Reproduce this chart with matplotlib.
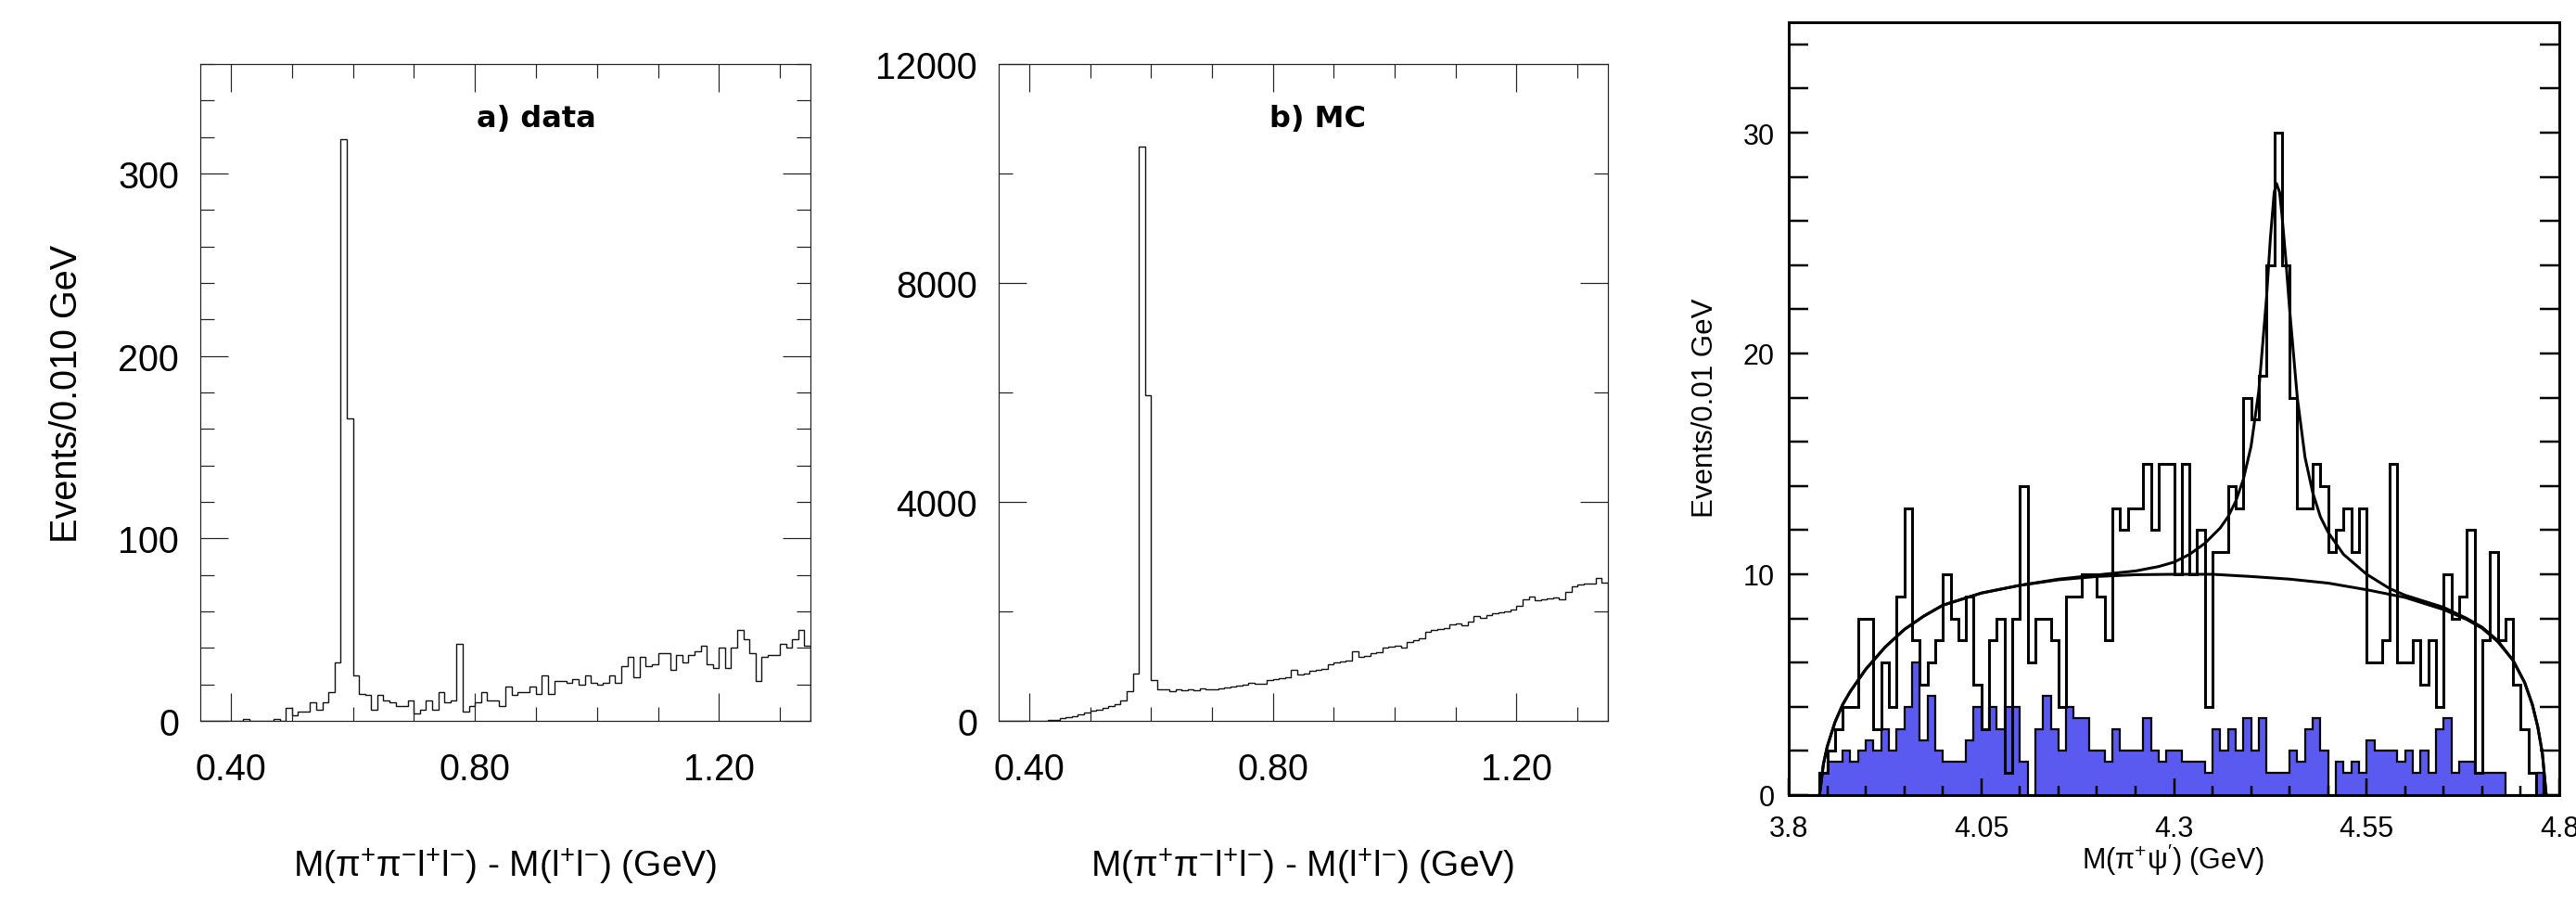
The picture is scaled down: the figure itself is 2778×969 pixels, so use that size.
import numpy as np
import matplotlib
matplotlib.use("Agg")
import matplotlib.pyplot as plt
from matplotlib.ticker import FixedLocator, MultipleLocator

plt.rcParams['font.family'] = ['Liberation Sans', 'DejaVu Sans']
plt.rcParams['mathtext.default'] = 'regular'

# ---------------- data ----------------
# panel a: data, 0.35 .. 1.35 GeV, 0.010 GeV bins
data_a = [0, 0, 0, 0, 0, 0, 0, 1, 0, 0,
          0, 0, 1, 0, 7, 3, 5, 5, 10, 6,
          10, 16, 32, 319, 166, 25, 15, 14, 6, 14,
          11, 10, 8, 8, 11, 4, 6, 11, 6, 16,
          10, 11, 42, 5, 8, 10, 16, 11, 11, 8,
          19, 14, 16, 16, 19, 15, 25, 15, 22, 22,
          21, 23, 20, 25, 21, 20, 21, 25, 21, 30,
          35, 24, 35, 30, 31, 37, 37, 28, 36, 32,
          36, 38, 41, 31, 29, 40, 29, 40, 50, 45,
          37, 22, 35, 36, 36, 42, 40, 45, 50, 41]

# panel b: MC
mc_b = [0, 0, 0, 0, 0, 0, 0, 8, 14, 25,
        45, 65, 90, 120, 145, 180, 210, 245, 275, 300,
        380, 540, 860, 10490, 5950, 738, 568, 568, 535, 576,
        559, 576, 551, 592, 576, 568, 600, 616, 632, 649,
        665, 689, 673, 681, 738, 762, 786, 803, 932, 843,
        868, 908, 932, 957, 1030, 1070, 1086, 1103, 1265, 1168,
        1192, 1232, 1257, 1338, 1362, 1378, 1346, 1435, 1476, 1516,
        1622, 1654, 1670, 1695, 1759, 1776, 1751, 1816, 1914, 1873,
        1938, 1962, 1986, 1995, 2035, 2108, 2222, 2278, 2205, 2222,
        2238, 2254, 2222, 2351, 2457, 2489, 2513, 2513, 2611, 2522]

# panel c: M(pi+ psi') 3.80 .. 4.80 GeV, 0.01 GeV bins
signal_c = [0, 0, 0, 0, 1, 2, 3, 4, 4, 8,
            8, 3, 6, 4, 9, 13, 7, 5, 6, 7,
            10, 8, 7, 9, 5, 3, 7, 8, 1, 8,
            14, 6, 8, 8, 7, 4, 9, 9, 10, 10,
            9, 7, 13, 12, 13, 13, 15, 12, 15, 15,
            10, 15, 10, 12, 4, 11, 11, 14, 13, 18,
            17, 19, 24, 30, 24, 18, 13, 13, 15, 14,
            11, 12, 13, 11, 13, 6, 6, 7, 15, 6,
            6, 7, 5, 7, 4, 10, 8, 9, 12, 1,
            7, 11, 7, 8, 5, 3, 1, 0, 0, 0]

sideband_c = [0, 0, 0, 0, 1, 1.5, 1.5, 2, 1.5, 2,
              2.5, 2, 3, 2, 3, 4, 6, 2.5, 4.5, 2,
              1.5, 1.5, 1.5, 2.5, 4, 3, 4, 3, 4, 4,
              1.5, 0, 3, 4.5, 3, 2, 4, 3.5, 3.5, 2,
              2, 1.5, 3, 2, 2, 2, 3.5, 2, 1.5, 2,
              2, 1.5, 1.5, 1.5, 1, 3, 2, 3, 2, 3.5,
              2, 3.5, 1, 1, 1, 2, 1.5, 3, 3.5, 2,
              0, 1.5, 1, 1.5, 1, 2.5, 2, 2, 2, 1.5,
              2, 1, 2, 1, 3, 3.5, 1, 1.5, 1.5, 1,
              1, 1, 1, 0, 0, 0, 0, 1, 0, 0]

bkg_curve_x = [3.840, 3.845, 3.850, 3.860, 3.870, 3.880, 3.900, 3.925, 3.950, 3.975,
               4.000, 4.050, 4.100, 4.150, 4.200, 4.250, 4.300, 4.350, 4.400, 4.450,
               4.500, 4.550, 4.600, 4.650, 4.680, 4.700, 4.720, 4.740, 4.755, 4.765,
               4.772, 4.778, 4.783]
bkg_curve_y = [0, 1.4, 2.2, 3.3, 4.1, 4.7, 5.7, 6.7, 7.5, 8.1,
               8.6, 9.15, 9.5, 9.75, 9.9, 9.98, 10.0, 10.0, 9.9, 9.78,
               9.6, 9.3, 8.95, 8.4, 7.95, 7.55, 6.95, 6.1, 5.1, 4.1,
               3.1, 1.9, 0]

fit_curve_x = [3.840, 3.845, 3.850, 3.860, 3.870, 3.880, 3.900, 3.925, 3.950, 3.975,
               4.000, 4.050, 4.100, 4.150, 4.200, 4.250, 4.280, 4.300, 4.320, 4.340,
               4.360, 4.370, 4.380, 4.390, 4.400, 4.410, 4.420, 4.425, 4.430, 4.433,
               4.437, 4.440, 4.445, 4.450, 4.460, 4.470, 4.480, 4.490, 4.500, 4.520,
               4.550, 4.580, 4.600, 4.650, 4.680, 4.700, 4.720, 4.740, 4.755, 4.765,
               4.772, 4.778, 4.783]
fit_curve_y = [0, 1.4, 2.2, 3.3, 4.1, 4.7, 5.7, 6.7, 7.5, 8.1,
               8.6, 9.15, 9.5, 9.78, 9.97, 10.15, 10.35, 10.55, 10.9, 11.4,
               12.1, 12.6, 13.3, 14.3, 15.8, 18.3, 22.5, 25.2, 27.3, 27.7,
               27.3, 26.3, 24.3, 22.0, 18.0, 15.3, 13.7, 12.6, 11.9, 10.9,
               10.0, 9.35, 9.05, 8.5, 8.0, 7.6, 7.0, 6.1, 5.1, 4.1,
               3.1, 1.9, 0]

edges_ab = np.round(np.linspace(0.35, 1.35, len(data_a) + 1), 3)
edges_c = np.round(np.linspace(3.80, 4.80, len(signal_c) + 1), 3)

# ---------------- figure ----------------
W, H = 2778, 970
DPI = 100
fig = plt.figure(figsize=(W / DPI, H / DPI), dpi=DPI)
PX = 72.0 / DPI  # points per pixel


def rect(x0, y0, x1, y1):
    return [x0 / W, 1 - y1 / H, (x1 - x0) / W, (y1 - y0) / H]


def style_ab(ax, ymax, ymajor, yminor, ylabels):
    ax.set_xlim(0.35, 1.35)
    ax.set_ylim(0, ymax)
    ax.xaxis.set_major_locator(FixedLocator([0.4, 0.8, 1.2]))
    ax.xaxis.set_minor_locator(FixedLocator([0.5, 0.6, 0.7, 0.9, 1.0, 1.1, 1.3]))
    ax.set_xticklabels(['0.40', '0.80', '1.20'])
    ax.yaxis.set_major_locator(MultipleLocator(ymajor))
    ax.yaxis.set_minor_locator(MultipleLocator(yminor))
    ax.set_yticks(ylabels)
    ax.set_yticklabels([str(v) for v in ylabels])
    for s in ax.spines.values():
        s.set_linewidth(1.2 * PX)
        s.set_color('#222222')
    ax.tick_params(which='both', direction='in', top=True, right=True,
                   width=1.2 * PX, color='#222222')
    ax.tick_params(which='major', length=30 * PX)
    ax.tick_params(which='minor', length=15 * PX)
    ax.tick_params(axis='x', which='major', labelsize=28.5, pad=23.5)
    ax.tick_params(axis='y', which='major', labelsize=28.5, pad=16.5)


xlab_ab = r'M(π$^{+}$π$^{-}$l$^{+}$l$^{-}$) - M(l$^{+}$l$^{-}$) (GeV)'

# ---- panel a ----
axa = fig.add_axes(rect(216, 70, 874, 778))
axa.stairs(data_a, edges_ab, baseline=0, color='#111111', lw=1.4 * PX)
style_ab(axa, 360, 100, 20, [0, 100, 200, 300])
axa.text(0.55, 0.918, 'a) data', transform=axa.transAxes, ha='center', va='center',
         fontsize=23, fontweight='bold', family='DejaVu Sans')
fig.text(545 / W, 1 - 945 / H, xlab_ab, ha='center', va='baseline', fontsize=28)
fig.text(72 / W, 1 - 424 / H, 'Events/0.010 GeV', rotation=90, ha='center',
         va='center', fontsize=28.5)

# ---- panel b ----
axb = fig.add_axes(rect(1077, 70, 1734, 778))
axb.stairs(mc_b, edges_ab, baseline=0, color='#111111', lw=1.4 * PX)
style_ab(axb, 12000, 4000, 2000, [0, 4000, 8000, 12000])
axb.text(0.524, 0.918, 'b) MC', transform=axb.transAxes, ha='center', va='center',
         fontsize=23, fontweight='bold', family='DejaVu Sans')
fig.text(1405 / W, 1 - 945 / H, xlab_ab, ha='center', va='baseline', fontsize=28)

# ---- panel c ----
axc = fig.add_axes(rect(1929, 25, 2760, 858))
axc.stairs(sideband_c, edges_c, baseline=0, fill=True, facecolor='#5a5af0',
           edgecolor='none', zorder=1)
axc.stairs(sideband_c, edges_c, baseline=0, color='black', lw=2.2 * PX, zorder=2)
axc.stairs(signal_c, edges_c, baseline=0, color='black', lw=3.0 * PX, zorder=3)
axc.plot(bkg_curve_x, bkg_curve_y, color='black', lw=3.0 * PX, zorder=4)
axc.plot(fit_curve_x, fit_curve_y, color='black', lw=3.0 * PX, zorder=4)
axc.set_xlim(3.8, 4.8)
axc.set_ylim(0, 35)
axc.xaxis.set_major_locator(FixedLocator([3.8, 4.05, 4.3, 4.55, 4.8]))
axc.set_xticklabels(['3.8', '4.05', '4.3', '4.55', '4.8'])
axc.xaxis.set_minor_locator(MultipleLocator(0.05))
axc.yaxis.set_major_locator(FixedLocator([0, 10, 20, 30]))
axc.yaxis.set_minor_locator(MultipleLocator(2))
for s in axc.spines.values():
    s.set_linewidth(3.0 * PX)
axc.tick_params(which='both', direction='in', top=False, right=True,
                width=2.5 * PX)
axc.tick_params(axis='y', which='both', length=21 * PX)
axc.tick_params(axis='x', which='major', length=18 * PX)
axc.tick_params(axis='x', which='minor', length=10 * PX)
axc.tick_params(axis='x', which='major', labelsize=22, pad=15)
axc.tick_params(axis='y', which='major', labelsize=22, pad=11)
fig.text(2344 / W, 1 - 937 / H, r'M(π$^{+}$ψ$^{\prime}$) (GeV)', ha='center',
         va='baseline', fontsize=22)
fig.text(1839 / W, 1 - 440 / H, 'Events/0.01 GeV', rotation=90, ha='center',
         va='center', fontsize=22.5)

fig.savefig('out.png', dpi=DPI)
